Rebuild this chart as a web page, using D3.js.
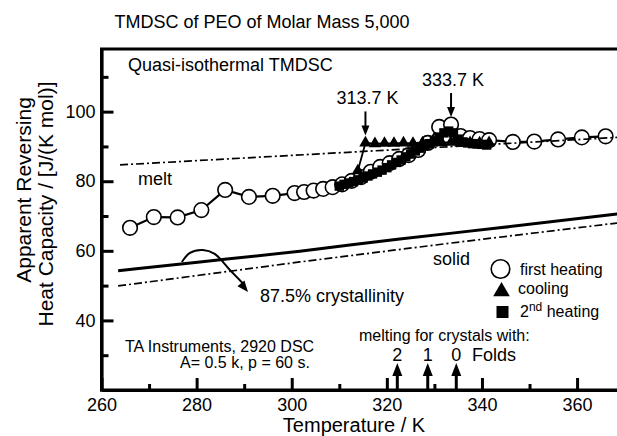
<!DOCTYPE html>
<html><head><meta charset="utf-8">
<script src="https://cdn.jsdelivr.net/npm/d3@7"></script>
<style>
body{margin:0;background:#fff}
svg{display:block}
text{font-family:"Liberation Sans",Arial,Helvetica,sans-serif;fill:#000}
</style>
</head><body>
<svg id="c" width="617" height="436"></svg>
<script>
// ---------- data ----------
const firstHeatT  = [266,271,276,281,286,291,296,300.6,302.6,304.6,306.6,308.6,310.6,312.6,314.6,316.6,318.6,320.6,322.6,324.6,326.6,328.6,331.0,333.5,335.5,337.5,339.5,341.5,346.5,351.0,356.0,361.0,366.0];
const firstHeatCp = [66.6,69.7,69.6,71.7,77.5,75.5,75.8,76.6,76.9,77.3,77.8,78.3,79.1,80.1,81.2,82.7,84.1,85.2,86.4,87.5,89.0,91.0,95.6,96.3,93.0,92.4,92.1,91.8,91.3,91.4,92.0,92.6,92.9];
const coolT  = [341.5,339.5,337.5,335.5,333.5,331.5,329.5,327.5,325.5,323.5,321.5,319.5,317.5,315.5,313.9];
const coolCp = [91.1,91.0,91.1,91.0,91.2,91.1,91.0,91.0,90.9,91.0,90.9,90.9,90.8,91.0,83.0];
const heat2T  = [310,311,312,313,314,315,316,317,318,319,320,321,322,323,324,325,326,327,328,329,330,331,332,333,334,335,336,337,338,339,340,341];
const heat2Cp = [78.6,79.1,79.5,79.9,80.4,80.9,81.5,82.1,82.6,83.2,83.9,84.7,85.4,86.1,87.0,87.8,88.7,89.5,90.3,90.8,91.6,92.7,93.9,94.4,93.9,92.1,91.3,91.0,90.8,90.7,90.6,90.4];
const meltT  = [263.9,314.3,368.5];
const meltCp = [84.7,88.5,92.6];
const solidT  = [263.5,301.7,333.3,368.5];
const solidCp = [49.9,56.8,62.2,68.0];
const crystT  = [263.5,280.7,301.7,322.7,343.7,368.5];
const crystCp = [54.3,56.8,59.9,63.4,66.6,70.6];
const crystArrowT  = [276.9,278.6,281.3,283.8,287.0,290.8];
const crystArrowCp = [56.8,59.4,60.2,59.1,54.5,48.2];
const xMajor = [260,280,300,320,340,360];
const xMinor = [270,290,310,330,350];
const yMajor = [40,60,80,100];
const yMinor = [30,50,70,90,110];
const peakLabels = ["313.7 K","333.7 K"];
const peakT  = [315.5,333.5];
const peakCp = [91.0,96.3];
const foldLabels = ["2","1","0"];
const foldT = [322.2,328.6,334.6];
const legendLabels = ["first heating","cooling","2nd heating"];

// ---------- scales ----------
const svg = d3.select("#c");
const x = d3.scaleLinear().domain([260,368.5]).range([101.5,617.5]);
const y = d3.scaleLinear().domain([20,118]).range([390,49]);
const X0 = x(260), Y0 = y(20), YT = y(118);
const pts = (T,C)=>T.map((t,i)=>[t,C[i]]);
const lin = d3.line().x(d=>x(d[0])).y(d=>y(d[1]));

// ---------- texts ----------
svg.append("text").attr("x",262).attr("y",28).attr("text-anchor","middle")
  .style("font-size","18px").text("TMDSC of PEO of Molar Mass 5,000");
svg.append("text").attr("x",354).attr("y",432).attr("text-anchor","middle")
  .style("font-size","20px").text("Temperature / K");
svg.append("text").attr("transform","translate(31,190) rotate(-90)").attr("text-anchor","middle")
  .style("font-size","21px").text("Apparent Reversing");
svg.append("text").attr("transform","translate(53,204) rotate(-90)").attr("text-anchor","middle")
  .style("font-size","21px").text("Heat Capacity / [J/(K mol)]");

// ---------- reference lines ----------
const plot = svg.append("g");
plot.append("path").datum(pts(solidT,solidCp)).attr("d",lin)
  .attr("fill","none").attr("stroke","#000").attr("stroke-width",1.7).attr("stroke-dasharray","8,3,2,3");
plot.append("path").datum(pts(crystT,crystCp)).attr("d",d3.line().curve(d3.curveMonotoneX).x(d=>x(d[0])).y(d=>y(d[1])))
  .attr("fill","none").attr("stroke","#000").attr("stroke-width",3);
const ca = pts(crystArrowT,crystArrowCp);
plot.append("path").datum(ca.slice(0,-1).concat([[ca[ca.length-1][0]-0.9,ca[ca.length-1][1]+2.2]]))
  .attr("d",d3.line().curve(d3.curveCatmullRom).x(d=>x(d[0])).y(d=>y(d[1])))
  .attr("fill","none").attr("stroke","#000").attr("stroke-width",2);
{
  const a = ca[ca.length-2], b = ca[ca.length-1];
  const tx = x(b[0]), ty = y(b[1]);
  const ang = Math.atan2(ty - y(a[1]), tx - x(a[0]));
  const L = 11, W = 4.5;
  const bx = tx - L*Math.cos(ang), by = ty - L*Math.sin(ang);
  const px = -Math.sin(ang)*W, py = Math.cos(ang)*W;
  plot.append("path").attr("d",`M${tx},${ty}L${bx+px},${by+py}L${bx-px},${by-py}Z`).attr("fill","#000");
}

// ---------- first heating ----------
const fh = pts(firstHeatT,firstHeatCp);
plot.append("path").datum(fh).attr("d",lin).attr("fill","none").attr("stroke","#000").attr("stroke-width",2.2);
plot.selectAll("circle.fh").data(fh).join("circle").attr("class","fh")
  .attr("cx",d=>x(d[0])).attr("cy",d=>y(d[1])).attr("r",7.3)
  .attr("fill","#fff").attr("stroke","#000").attr("stroke-width",1.6);
plot.append("path").datum(pts(meltT,meltCp)).attr("d",lin)
  .attr("fill","none").attr("stroke","#000").attr("stroke-width",1.7).attr("stroke-dasharray","8,3,2,3");

// ---------- cooling ----------
const co = pts(coolT,coolCp);
plot.append("path").datum(co).attr("d",lin).attr("fill","none").attr("stroke","#000").attr("stroke-width",1.8);
const tri = d3.symbol().type(d3.symbolTriangle).size(66);
plot.selectAll("path.co").data(co).join("path").attr("class","co")
  .attr("transform",d=>`translate(${x(d[0])},${y(d[1])})`).attr("d",tri).attr("fill","#000");

// ---------- 2nd heating ----------
const h2 = pts(heat2T,heat2Cp);
plot.append("path").datum(h2).attr("d",lin).attr("fill","none").attr("stroke","#000").attr("stroke-width",1.8);
plot.selectAll("rect.h2").data(h2).join("rect").attr("class","h2")
  .attr("x",d=>x(d[0])-4.7).attr("y",d=>y(d[1])-4.7).attr("width",9.4).attr("height",9.4).attr("fill","#000");

// ---------- annotations ----------
const ann = svg.append("g");
peakLabels.forEach((lab,i)=>{
  const cx = x(peakT[i]), cy = y(peakCp[i]);
  const tip = cy - 7.5, top = tip - 24;
  ann.append("line").attr("x1",cx).attr("x2",cx).attr("y1",top).attr("y2",tip-8).attr("stroke","#000").attr("stroke-width",2);
  ann.append("path").attr("d",`M${cx-4},${tip-10}L${cx+4},${tip-10}L${cx},${tip}Z`).attr("fill","#000");
  ann.append("text").attr("x",cx+2).attr("y",top-7).attr("text-anchor","middle").style("font-size","18px").text(lab);
});
svg.append("text").attr("x",128).attr("y",71).style("font-size","18px").text("Quasi-isothermal TMDSC");
svg.append("text").attr("x",138).attr("y",185).style("font-size","18px").text("melt");
svg.append("text").attr("x",433).attr("y",265).style("font-size","18px").text("solid");
svg.append("text").attr("x",260).attr("y",302).style("font-size","18px").text("87.5% crystallinity");
svg.append("text").attr("x",125).attr("y",352).style("font-size","16px").text("TA Instruments, 2920 DSC");
svg.append("text").attr("x",180).attr("y",368).style("font-size","16px").text("A= 0.5 k, p = 60 s.");
svg.append("text").attr("x",359).attr("y",341).style("font-size","16px").text("melting for crystals with:");
foldLabels.forEach((lab,i)=>{
  const cx = x(foldT[i]);
  svg.append("line").attr("x1",cx).attr("x2",cx).attr("y1",Y0).attr("y2",372).attr("stroke","#000").attr("stroke-width",3);
  svg.append("path").attr("d",`M${cx-5},${376}L${cx+5},${376}L${cx},${363}Z`).attr("fill","#000");
  svg.append("text").attr("x",cx).attr("y",361).attr("text-anchor","middle").style("font-size","18px").text(lab);
});
svg.append("text").attr("x",472).attr("y",361).style("font-size","18px").text("Folds");

// legend
const lg = svg.append("g");
lg.append("circle").attr("cx",500.5).attr("cy",269).attr("r",9.3).attr("fill","#fff").attr("stroke","#000").attr("stroke-width",1.6);
lg.append("path").attr("transform","translate(501.5,291.5)").attr("d",d3.symbol().type(d3.symbolTriangle).size(120)).attr("fill","#000");
lg.append("rect").attr("x",496.5).attr("y",306).attr("width",12).attr("height",12).attr("fill","#000");
lg.append("text").attr("x",520).attr("y",275).style("font-size","16px").text(legendLabels[0]);
lg.append("text").attr("x",518).attr("y",294).style("font-size","16px").text(legendLabels[1]);
const t3 = lg.append("text").attr("x",520).attr("y",317).style("font-size","16px");
t3.append("tspan").text("2");
t3.append("tspan").attr("dy",-6).style("font-size","12px").text("nd");
t3.append("tspan").attr("dy",6).text(" heating");

// ---------- axes and frame (drawn last) ----------
function styleAxis(g, w){
  g.selectAll("path.domain").attr("stroke","#000").attr("stroke-width",w);
  g.selectAll(".tick line").attr("stroke","#000").attr("stroke-width",3);
  g.selectAll(".tick text").style("font-size","18px")
    .style("font-family","'Liberation Sans', Arial, sans-serif");
}
const ax = svg.append("g").attr("transform",`translate(0,${Y0})`)
  .call(d3.axisBottom(x).tickValues(xMajor).tickSize(-12).tickSizeOuter(0).tickPadding(8).tickFormat(d3.format("d")));
styleAxis(ax,3.2);
const axm = svg.append("g").attr("transform",`translate(0,${Y0})`)
  .call(d3.axisBottom(x).tickValues(xMinor).tickSize(-6).tickSizeOuter(0).tickFormat(""));
axm.select(".domain").remove();
styleAxis(axm,3);
const ay = svg.append("g").attr("transform",`translate(${X0},0)`)
  .call(d3.axisLeft(y).tickValues(yMajor).tickSize(-12).tickSizeOuter(0).tickPadding(6).tickFormat(d3.format("d")));
styleAxis(ay,3.2);
const aym = svg.append("g").attr("transform",`translate(${X0},0)`)
  .call(d3.axisLeft(y).tickValues(yMinor).tickSize(-7).tickSizeOuter(0).tickFormat(""));
aym.select(".domain").remove();
styleAxis(aym,3);
svg.append("path").attr("d",`M${X0},${Y0+1.6}V${YT}H617`)
  .attr("fill","none").attr("stroke","#000").attr("stroke-width",3);
svg.append("path").attr("d",`M${X0-1.5},${Y0}H617`)
  .attr("fill","none").attr("stroke","#000").attr("stroke-width",3.2);
</script>
</body></html>
